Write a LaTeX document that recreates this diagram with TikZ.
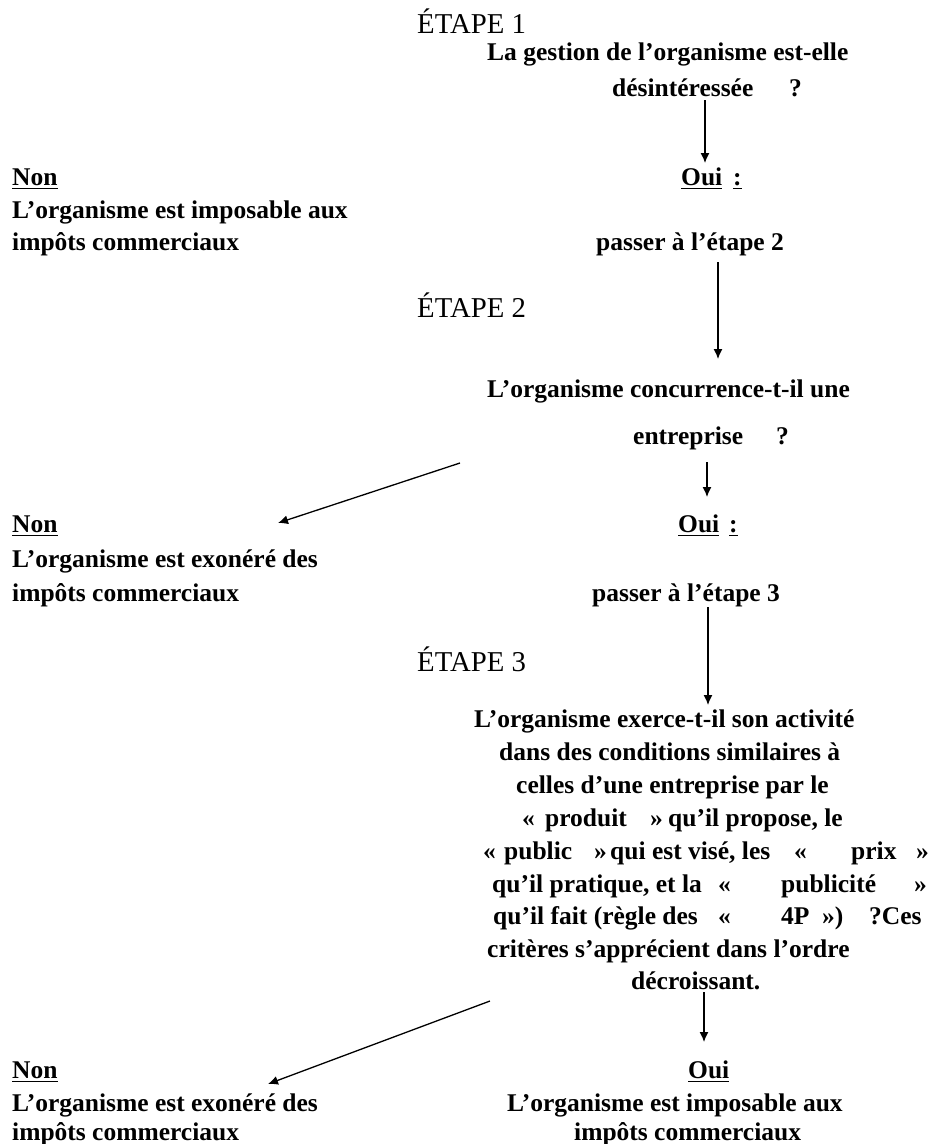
\documentclass[tikz,border=0pt]{standalone}
\usepackage{fontspec}
\setmainfont{Liberation Serif}
\usetikzlibrary{arrows.meta}
\newcommand\myul[1]{\setbox0\hbox{#1}\rlap{\rule[-4pt]{\wd0}{1.4pt}}\box0}
\begin{document}
\begin{tikzpicture}[x=1pt,y=-1pt,
  txt/.style={anchor=base west, inner sep=0pt, font=\fontsize{25.5}{30}\selectfont\bfseries},
  head/.style={anchor=base west, inner sep=0pt, font=\fontsize{28.75}{34}\selectfont},
  arr/.style={line width=1.3pt, -{Latex[length=10pt,width=9pt]}}]
\useasboundingbox[fill=white] (0,0) rectangle (932,1144);
% ---- Step 1
\node[head] (e1) at (417,33) {ÉTAPE 1};
\node[txt] (q1a) at (487,60) {La gestion de l’organisme est-elle};
\node[txt] (q1b) at (612,96) {désintéressée};
\node[txt] (q1c) at (789,96) {?};
\node[txt] (non1) at (12,185) {\myul{Non}};
\node[txt] (non1a) at (12,218) {L’organisme est imposable aux};
\node[txt] (non1b) at (12,250) {impôts commerciaux};
\node[txt] (oui1) at (681,185) {\myul{Oui}};
\node[txt] (oui1c) at (733,185) {\myul{:}};
\node[txt] (pass2) at (596,250) {passer à l’étape 2};
% ---- Step 2
\node[head] (e2) at (417,317) {ÉTAPE 2};
\node[txt] (q2a) at (487,397) {L’organisme concurrence-t-il une};
\node[txt] (q2b) at (633,444) {entreprise};
\node[txt] (q2c) at (776,444) {?};
\node[txt] (non2) at (12,532) {\myul{Non}};
\node[txt] (non2a) at (12,567) {L’organisme est exonéré des};
\node[txt] (non2b) at (12,601) {impôts commerciaux};
\node[txt] (oui2) at (678,532) {\myul{Oui}};
\node[txt] (oui2c) at (729,532) {\myul{:}};
\node[txt] (pass3) at (592,601) {passer à l’étape 3};
% ---- Step 3
\node[head] (e3) at (417,671) {ÉTAPE 3};
\node[txt] (q3l1) at (474,727) {L’organisme exerce-t-il son activité};
\node[txt] (q3l2) at (499,760) {dans des conditions similaires à};
\node[txt] (q3l3) at (516,793) {celles d’une entreprise par le};
\node[txt] (q3l4a) at (522,826) {«};
\node[txt] (q3l4b) at (545,826) {produit};
\node[txt] (q3l4c) at (650,826) {»};
\node[txt] (q3l4d) at (668,826) {qu’il propose, le};
\node[txt] (q3l5a) at (483,859) {«};
\node[txt] (q3l5b) at (504,859) {public};
\node[txt] (q3l5c) at (594,859) {»};
\node[txt] (q3l5d) at (610,859) {qui est visé, les};
\node[txt] (q3l5e) at (794,859) {«};
\node[txt] (q3l5f) at (851,859) {prix};
\node[txt] (q3l5g) at (916,859) {»};
\node[txt] (q3l6a) at (492,892) {qu’il pratique, et la};
\node[txt] (q3l6b) at (718,892) {«};
\node[txt] (q3l6c) at (781,892) {publicité};
\node[txt] (q3l6d) at (914,892) {»};
\node[txt] (q3l7a) at (493,924) {qu’il fait (règle des};
\node[txt] (q3l7b) at (718,924) {«};
\node[txt] (q3l7c) at (781,924) {4P};
\node[txt] (q3l7d) at (822,924) {»)};
\node[txt] (q3l7e) at (869,924) {?Ces};
\node[txt] (q3l8) at (487,957) {critères s’apprécient dans l’ordre};
\node[txt] (q3l9) at (631,989) {décroissant.};
% ---- Results
\node[txt] (non3) at (12,1078) {\myul{Non}};
\node[txt] (non3a) at (12,1111) {L’organisme est exonéré des};
\node[txt] (non3b) at (12,1140) {impôts commerciaux};
\node[txt] (oui3) at (688,1078) {\myul{Oui}};
\node[txt] (oui3a) at (507,1111) {L’organisme est imposable aux};
\node[txt] (oui3b) at (574,1140) {impôts commerciaux};
% ---- Connectors
\coordinate (a1s) at (705,100);  \coordinate (a1e) at (705,163);
\coordinate (a2s) at (718,262);  \coordinate (a2e) at (718,359);
\coordinate (a3s) at (707,462);  \coordinate (a3e) at (707,497);
\coordinate (d1s) at (460,463);  \coordinate (d1e) at (278,523);
\coordinate (a4s) at (708,607);  \coordinate (a4e) at (708,705);
\coordinate (a5s) at (704,992);  \coordinate (a5e) at (704,1042);
\coordinate (d2s) at (490,1001); \coordinate (d2e) at (268,1084);
\draw[arr] (a1s) -- (a1e);
\draw[arr] (a2s) -- (a2e);
\draw[arr] (a3s) -- (a3e);
\draw[arr] (d1s) -- (d1e);
\draw[arr] (a4s) -- (a4e);
\draw[arr] (a5s) -- (a5e);
\draw[arr] (d2s) -- (d2e);
\end{tikzpicture}
\end{document}
